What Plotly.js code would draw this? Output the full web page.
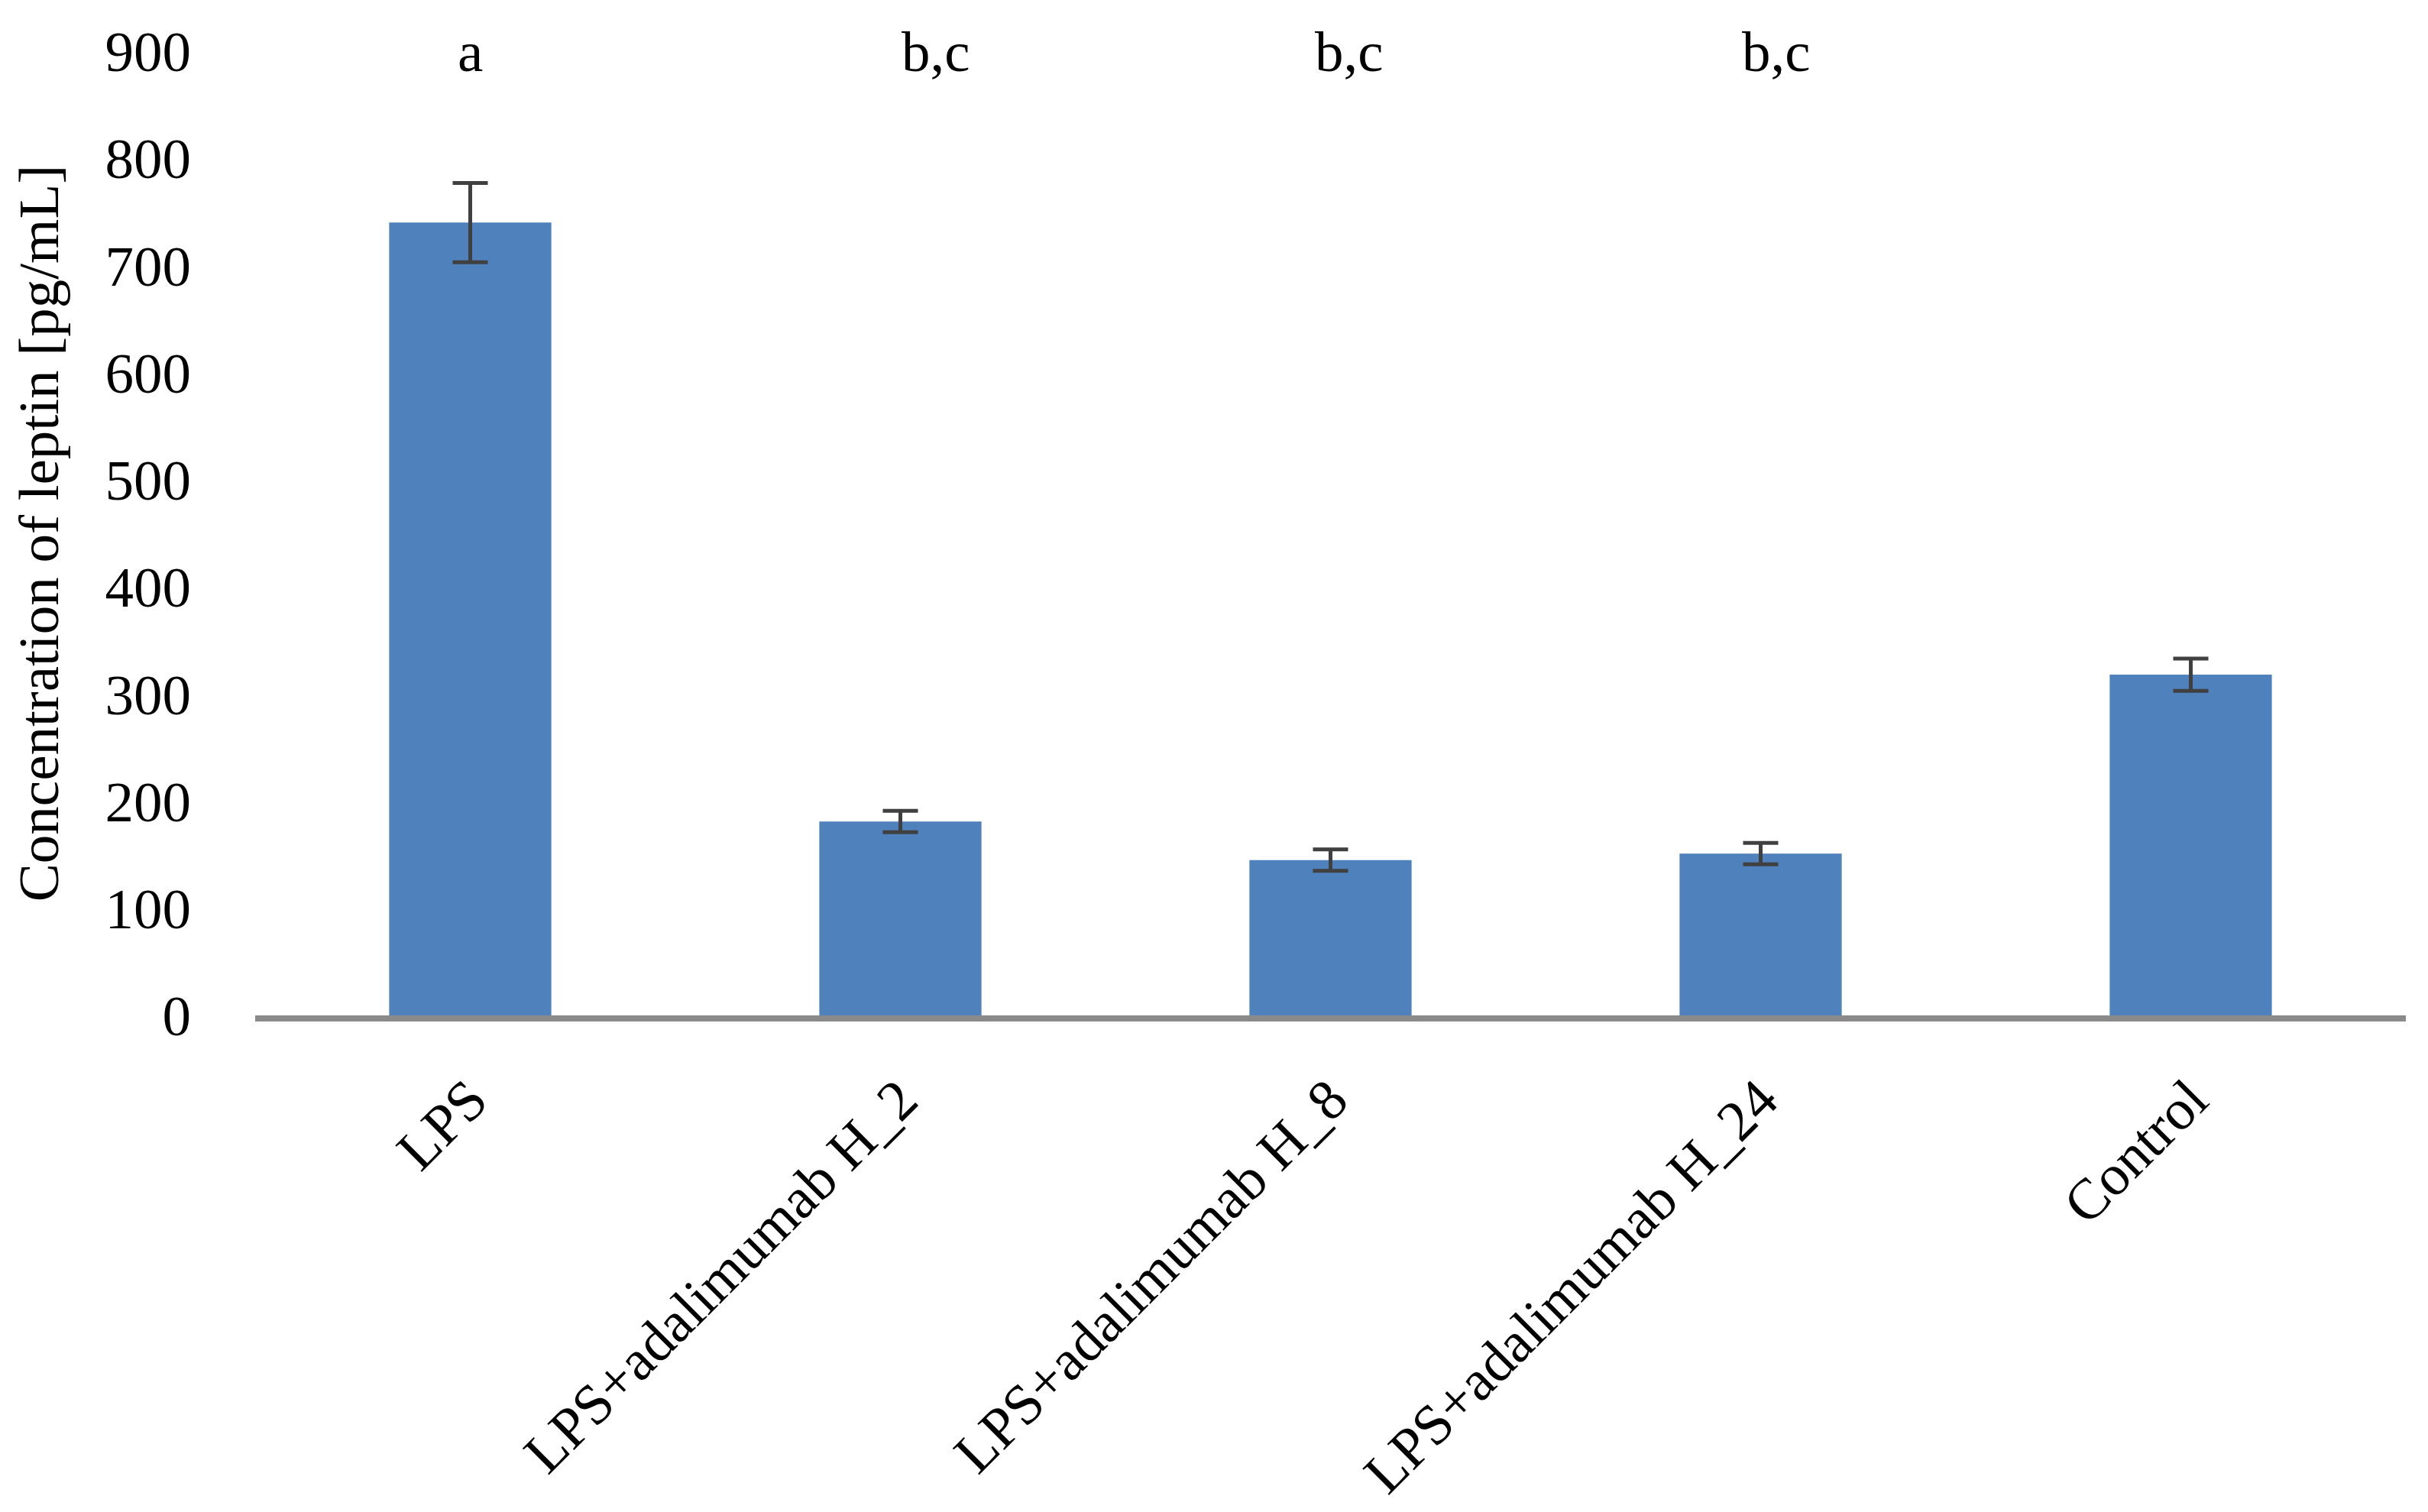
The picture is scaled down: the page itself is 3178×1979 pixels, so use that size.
<!DOCTYPE html>
<html>
<head>
<meta charset="utf-8">
<script src="https://cdn.plot.ly/plotly-3.0.1.min.js"></script>
<style>html,body{margin:0;padding:0;background:#fff;}#chart{width:3178px;height:1979px;}</style>
</head>
<body>
<div id="chart"></div>
<script>
// Data
const categories = ["LPS", "LPS+adalimumab H_2", "LPS+adalimumab H_8", "LPS+adalimumab H_24", "Control"];
const leptin = [740, 181, 145, 151, 318];
const leptinErr = [37, 10, 10, 10, 15];
const groupLetters = ["a", "b,c", "b,c", "b,c", ""];
const yTicks = [0, 100, 200, 300, 400, 500, 600, 700, 800, 900];

const FONT = "Liberation Serif, Times New Roman, serif";
const letterShift = [0, 46, 24, 20, 0];

const trace = {
  type: "bar",
  x: categories,
  y: leptin,
  width: 0.377,
  marker: {color: "#4f81bd", line: {width: 0}},
  error_y: {type: "data", array: leptinErr, visible: true, color: "#404040", thickness: 5, width: 23},
  hoverinfo: "skip"
};

const annotations = categories.map((c, i) => ({
  x: c, y: yTicks[yTicks.length - 1], xref: "x", yref: "y",
  text: groupLetters[i], showarrow: false, xshift: letterShift[i],
  yanchor: "middle", xanchor: "center",
  font: {family: FONT, size: 75, color: "#000"}
})).filter(a => a.text);

const layout = {
  width: 3178, height: 1979,
  paper_bgcolor: "#ffffff", plot_bgcolor: "#ffffff",
  margin: {l: 334, r: 29, t: 67, b: 650},
  showlegend: false,
  font: {family: FONT, size: 75, color: "#000"},
  xaxis: {
    type: "category",
    range: [-0.5, 4.5],
    tickangle: -45,
    showline: true, linecolor: "#8a8a8a", linewidth: 8,
    showgrid: false, zeroline: false,
    ticks: "outside", ticklen: 28, tickcolor: "rgba(0,0,0,0)",
    tickfont: {family: FONT, size: 75, color: "#000"},
    automargin: false
  },
  yaxis: {
    range: [0, 900],
    tickvals: yTicks,
    ticktext: yTicks.map(String),
    showline: false, showgrid: false, zeroline: false,
    ticks: "outside", ticklen: 68, tickcolor: "rgba(0,0,0,0)",
    tickfont: {family: FONT, size: 75, color: "#000"},
    title: {text: "Concentration of leptin [pg/mL]", font: {family: FONT, size: 75, color: "#000"}, standoff: 36},
    automargin: false
  },
  annotations: annotations
};

Plotly.newPlot("chart", [trace], layout, {staticPlot: true, displayModeBar: false});
</script>
</body>
</html>
